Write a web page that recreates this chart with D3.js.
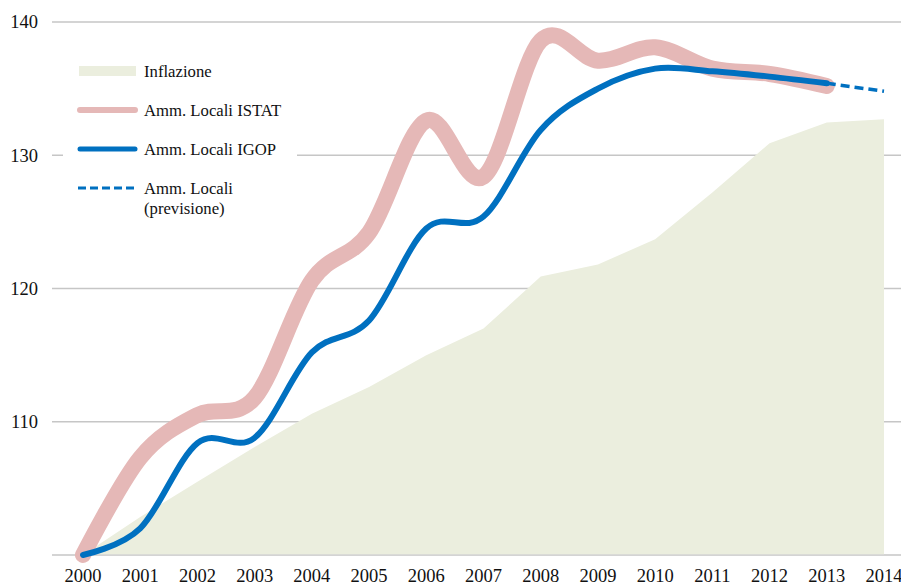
<!DOCTYPE html>
<html>
<head>
<meta charset="utf-8">
<script src="https://cdn.jsdelivr.net/npm/d3@7"></script>
<style>
	html, body { margin: 0; padding: 0; background: #fff; }
	svg { display: block; font-family: "Liberation Serif", "Times New Roman", serif; }
</style>
</head>
<body>
<svg id="chart" width="901" height="586"></svg>
<script>
// dati (numeri indice, 2000 = 100)
var years = [2000, 2001, 2002, 2003, 2004, 2005, 2006, 2007, 2008, 2009, 2010, 2011, 2012, 2013, 2014];
var inflazione = [100, 102.85, 105.5, 108.1, 110.6, 112.6, 115.0, 117.0, 120.9, 121.8, 123.7, 127.2, 130.9, 132.45, 132.7];
var istatYears = [2000, 2001, 2002, 2003, 2004, 2005, 2006, 2007, 2008, 2009, 2010, 2011, 2012, 2013];
var istat = [100, 107.3, 110.5, 111.8, 120.6, 124.2, 132.6, 128.4, 138.6, 137.1, 138.1, 136.5, 136.1, 135.2];
var igop = [100, 102.0, 108.4, 108.8, 115.2, 117.6, 124.5, 125.4, 131.9, 135.0, 136.5, 136.3, 135.9, 135.4];
var previsioneYears = [2013, 2014];
var previsione = [135.4, 134.8];
var yTicks = [110, 120, 130, 140];
var gridTicks = [100, 110, 120, 130, 140];

var svg = d3.select('#chart');

var x = d3.scaleLinear().domain([2000, 2014]).range([83, 884]);
var y = d3.scaleLinear().domain([100, 140]).range([555, 22]);

// griglia
svg.append('g').selectAll('line')
	.data(gridTicks)
	.enter().append('line')
	.attr('x1', 52).attr('x2', 901)
	.attr('y1', function(d){ return y(d); })
	.attr('y2', function(d){ return y(d); })
	.style('stroke', '#c6c6c6')
	.style('stroke-width', 1.5);

// etichette asse y
svg.append('g').selectAll('text')
	.data(yTicks)
	.enter().append('text')
	.attr('x', 38)
	.attr('y', function(d){ return y(d); })
	.attr('dy', '0.35em')
	.attr('text-anchor', 'end')
	.style('font-size', '18.5px')
	.style('fill', '#111')
	.text(function(d){ return d; });

// etichette asse x
svg.append('g').selectAll('text')
	.data(years)
	.enter().append('text')
	.attr('x', function(d){ return x(d); })
	.attr('y', 582)
	.attr('text-anchor', 'middle')
	.style('font-size', '18.5px')
	.style('fill', '#111')
	.text(function(d){ return d; });

// area inflazione
var area = d3.area()
	.x(function(d){ return x(d[0]); })
	.y0(y(100))
	.y1(function(d){ return y(d[1]); });
svg.append('path')
	.datum(d3.zip(years, inflazione))
	.attr('d', area)
	.style('fill', '#ebeede');

// linea di base sopra l'area
svg.append('line')
	.attr('x1', 52).attr('x2', 901)
	.attr('y1', y(100)).attr('y2', y(100))
	.style('stroke', '#d4d4d4')
	.style('stroke-width', 1.5);

var line = d3.line()
	.x(function(d){ return x(d[0]); })
	.y(function(d){ return y(d[1]); })
	.curve(d3.curveCardinal.tension(0));

// Amm. Locali ISTAT
svg.append('path')
	.datum(d3.zip(istatYears, istat))
	.attr('d', line)
	.style('fill', 'none')
	.style('stroke', '#e5b8b7')
	.style('stroke-width', 16)
	.style('stroke-linecap', 'round')
	.style('stroke-linejoin', 'round');

// Amm. Locali IGOP
svg.append('path')
	.datum(d3.zip(istatYears, igop))
	.attr('d', line)
	.style('fill', 'none')
	.style('stroke', '#0070c0')
	.style('stroke-width', 6)
	.style('stroke-linecap', 'round');

// previsione
svg.append('path')
	.datum(d3.zip(previsioneYears, previsione))
	.attr('d', d3.line().x(function(d){ return x(d[0]); }).y(function(d){ return y(d[1]); }))
	.style('fill', 'none')
	.style('stroke', '#0070c0')
	.style('stroke-width', 3.5)
	.style('stroke-dasharray', '9 5');

// legenda
var legend = svg.append('g');
legend.append('rect')
	.attr('x', 63).attr('y', 40)
	.attr('width', 234).attr('height', 188)
	.style('fill', '#fff');

var legendItems = [
	{ name: ['Inflazione'], type: 'area', y: 71 },
	{ name: ['Amm. Locali ISTAT'], type: 'istat', y: 110 },
	{ name: ['Amm. Locali IGOP'], type: 'igop', y: 149 },
	{ name: ['Amm. Locali', '(previsione)'], type: 'prev', y: 188 }
];

legendItems.forEach(function(it){
	if(it.type == 'area'){
		legend.append('rect')
			.attr('x', 79).attr('y', it.y - 5)
			.attr('width', 57).attr('height', 10)
			.style('fill', '#ebeede');
	} else {
		var l = legend.append('line')
			.attr('x1', 80).attr('x2', 135)
			.attr('y1', it.y).attr('y2', it.y)
			.style('stroke-linecap', it.type == 'prev' ? 'butt' : 'round');
		if(it.type == 'istat'){
			l.style('stroke', '#e5b8b7').style('stroke-width', 6);
		} else if(it.type == 'igop'){
			l.style('stroke', '#0070c0').style('stroke-width', 5);
		} else {
			l.attr('x1', 78).attr('x2', 137)
				.style('stroke', '#0070c0').style('stroke-width', 3)
				.style('stroke-dasharray', '8 4');
		}
	}
	it.name.forEach(function(t, i){
		legend.append('text')
			.attr('x', 144)
			.attr('y', it.y + 6 + i * 20)
			.style('font-size', '16.7px')
			.style('fill', '#111')
			.text(t);
	});
});
</script>
</body>
</html>
